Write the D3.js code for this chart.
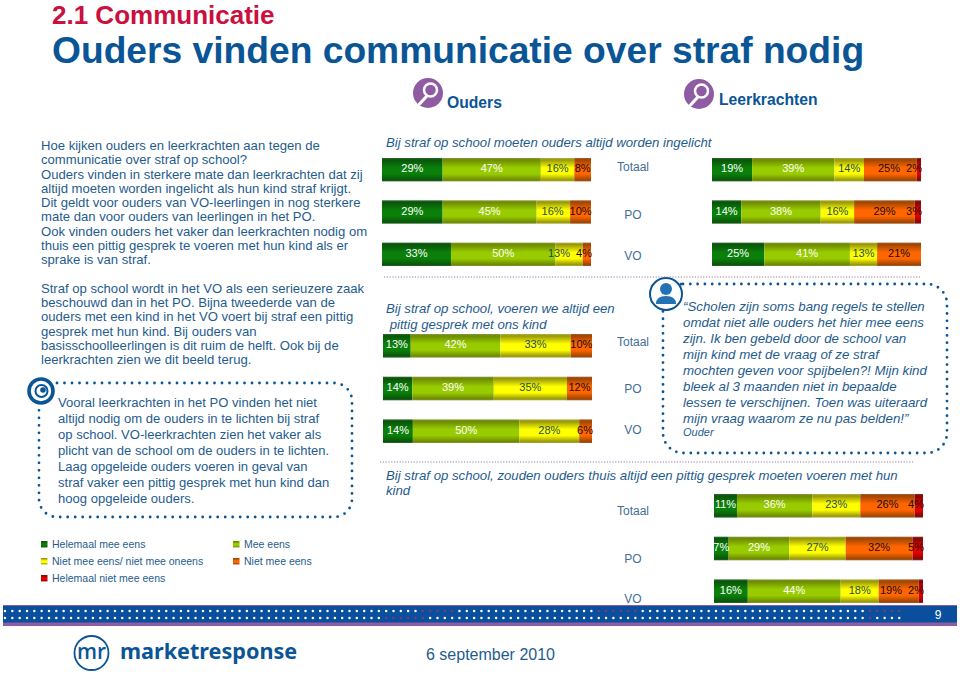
<!DOCTYPE html>
<html><head><meta charset="utf-8">
<script src="https://cdn.jsdelivr.net/npm/d3@7"></script>
<style>html,body{margin:0;padding:0;background:#fff}svg{display:block}text{font-family:"Liberation Sans",Arial,sans-serif}</style>
</head><body><svg id="c" width="960" height="679"></svg>
<script>
const categories = ["Helemaal mee eens","Mee eens","Niet mee eens/ niet mee oneens","Niet mee eens","Helemaal niet mee eens"];
const rowNames = ["Totaal","PO","VO"];
const ouderInformed = [[29,47,16,8,0],[29,45,16,10,0],[33,50,13,4,0]];
const leerkrachtInformed = [[19,39,14,25,2],[14,38,16,29,3],[25,41,13,21,0]];
const ouderTalk = [[13,42,33,10,0],[14,39,35,12,0],[14,50,28,6,0]];
const ouderHomeTalk = [[11,36,23,26,4],[7,29,27,32,5],[16,44,18,19,2]];
const chartTitle1 = ["Bij straf op school moeten ouders altijd worden ingelicht"];
const chartTitle2 = ["Bij straf op school, voeren we altijd een"," pittig gesprek met ons kind"];
const chartTitle3 = ["Bij straf op school, zouden ouders thuis altijd een pittig gesprek moeten voeren met hun","kind"];
const introLines = ["Hoe kijken ouders en leerkrachten aan tegen de","communicatie over straf op school?","Ouders vinden in sterkere mate dan leerkrachten dat zij","altijd moeten worden ingelicht als hun kind straf krijgt.","Dit geldt voor ouders van VO-leerlingen in nog sterkere","mate dan voor ouders van leerlingen in het PO.","Ook vinden ouders het vaker dan leerkrachten nodig om","thuis een pittig gesprek te voeren met hun kind als er","sprake is van straf."];
const secondLines = ["Straf op school wordt in het VO als een serieuzere zaak","beschouwd dan in het PO. Bijna tweederde van de","ouders met een kind in het VO voert bij straf een pittig","gesprek met hun kind. Bij ouders van","basisschoolleerlingen is dit ruim de helft. Ook bij de","leerkrachten zien we dit beeld terug."];
const noteLines = ["Vooral leerkrachten in het PO vinden het niet","altijd nodig om de ouders in te lichten bij straf","op school. VO-leerkrachten zien het vaker als","plicht van de school om de ouders in te lichten.","Laag opgeleide ouders voeren in geval van","straf vaker een pittig gesprek met hun kind dan","hoog opgeleide ouders."];
const quoteLines = ["“Scholen zijn soms bang regels te stellen","omdat niet alle ouders het hier mee eens","zijn. Ik ben gebeld door de school van","mijn kind met de vraag of ze straf","mochten geven voor spijbelen?! Mijn kind","bleek al 3 maanden niet in bepaalde","lessen te verschijnen. Toen was uiteraard","mijn vraag waarom ze nu pas belden!”"];

const BLUE="#1f5c8e", HEAD="#0a5596", ROW="#3f6f96";
const svg=d3.select("#c");
const defs=svg.append("defs");
const shades=[["#2f6a2f","#0a540a","#0a7f0a"],["#8a9a40","#6d8a00","#99cc00"],["#b0b040","#97970a","#ffff00"],["#a06030","#a04500","#ff6600"],["#903030","#800808","#e60000"]];
shades.forEach((s,i)=>{
  const g=defs.append("linearGradient").attr("id","g"+i).attr("x1",0).attr("x2",0).attr("y1",0).attr("y2",1);
  [[0,s[0]],[.08,s[1]],[.42,s[2]],[.68,s[2]],[.94,s[1]],[1,s[0]]].forEach(d=>g.append("stop").attr("offset",d[0]).attr("stop-color",d[1]));
});
const textColor=["#fff","#fff","#1f4f4f","#1a0a00","#1a0a00"];

function lines(arr,x,y0,dy,opt={}){
  svg.append("g").selectAll("text").data(arr).join("text")
    .attr("x",x).attr("y",(d,i)=>y0+i*dy)
    .attr("font-size",opt.size||13).attr("font-style",opt.italic?"italic":"normal").attr("fill",opt.fill||BLUE)
    .style("white-space","pre").text(d=>d);
}

function stacked(data,x0,x1,y0,y1,rowYs){
  const y=d3.scaleBand().domain(rowNames).range([y0,y1]).paddingInner(.447);
  const g=svg.append("g");
  data.forEach((vals,r)=>{
    const total=d3.sum(vals);
    const x=d3.scaleLinear().domain([0,total]).range([x0,x1]);
    const cum=d3.cumsum(vals);
    const segs=vals.map((v,i)=>({v,i,a:cum[i]-v,b:cum[i]})).filter(d=>d.v>0);
    const row=g.append("g");
    row.selectAll("rect").data(segs).join("rect")
      .attr("x",d=>x(d.a)).attr("width",d=>x(d.b)-x(d.a))
      .attr("y",y(rowNames[r])).attr("height",y.bandwidth())
      .attr("fill",d=>`url(#g${d.i})`);
    // label positions: centred, held inside the bar, pushed left if they would collide
    const pos=segs.map(d=>({d,w:d.v>=10?22:16,cx:(x(d.a)+x(d.b))/2}));
    let limit=x1+1;
    for(let i=pos.length-1;i>=0;i--){
      const p=pos[i];
      p.cx=Math.min(p.cx,limit-p.w/2);
      limit=p.cx-p.w/2-6;
    }
    row.selectAll("text").data(pos).join("text")
      .attr("x",p=>p.cx).attr("y",y(rowNames[r])+y.bandwidth()/2+2.5)
      .attr("text-anchor","middle").attr("font-size",11)
      .attr("fill",p=>textColor[p.d.i]).text(p=>p.d.v+"%");
  });
  if(rowYs){
    g.selectAll("text.r").data(rowNames).join("text").attr("class","r")
      .attr("x",633).attr("y",(d,i)=>rowYs[i]).attr("text-anchor","middle")
      .attr("font-size",12).attr("fill",ROW).text(d=>d);
  }
}

// headings
svg.append("text").attr("x",52).attr("y",23.5).attr("font-size",26).attr("font-weight",700).attr("fill","#c9103f").text("2.1 Communicatie");
svg.append("text").attr("x",52).attr("y",63).attr("font-size",37.2).attr("font-weight",700).attr("fill",HEAD).text("Ouders vinden communicatie over straf nodig");

// magnifier icons
function magnifier(cx,cy){
  const g=svg.append("g").attr("transform",`translate(${cx},${cy})`);
  g.append("circle").attr("r",15).attr("fill","#8f5ba3");
  g.append("line").attr("x1",-2).attr("y1",4).attr("x2",-8.5).attr("y2",11).attr("stroke","#fff").attr("stroke-width",3.2).attr("stroke-linecap","round");
  g.append("circle").attr("cx",2.5).attr("cy",-3).attr("r",6.5).attr("fill","#8f5ba3").attr("stroke","#fff").attr("stroke-width",2.5);
}
magnifier(428,93); magnifier(699,94);
svg.append("text").attr("x",447).attr("y",108).attr("font-size",15.7).attr("font-weight",700).attr("fill",HEAD).text("Ouders");
svg.append("text").attr("x",719).attr("y",105).attr("font-size",15.7).attr("font-weight",700).attr("fill",HEAD).text("Leerkrachten");

// left column
lines(introLines,41,150,14.25,{size:13.1});
lines(secondLines,41,293,14.2,{size:13.1});

// note box
function dotted(x,y,w,h,r,dot,gap){
  svg.append("rect").attr("x",x).attr("y",y).attr("width",w).attr("height",h).attr("rx",r).attr("ry",r)
    .attr("fill","none").attr("stroke",HEAD).attr("stroke-width",dot).attr("stroke-linecap","round").attr("stroke-dasharray",`0 ${gap}`);
}
dotted(39,383,313,134,18,2.8,7.5);
svg.append("circle").attr("cx",41).attr("cy",391).attr("r",15).attr("fill","#fff");
svg.append("circle").attr("cx",41).attr("cy",391).attr("r",12).attr("fill","#fff").attr("stroke",HEAD).attr("stroke-width",3.6);
svg.append("circle").attr("cx",41.5).attr("cy",391).attr("r",6).attr("fill","#fff").attr("stroke",HEAD).attr("stroke-width",2);
svg.append("circle").attr("cx",43).attr("cy",390).attr("r",2.8).attr("fill",HEAD);
lines(noteLines,58,407,16,{size:13.05});

// quote box
dotted(663,284,284,169,20,2.8,7.3);
svg.append("circle").attr("cx",666).attr("cy",294).attr("r",16).attr("fill","#fff").attr("stroke",HEAD).attr("stroke-width",2);
svg.append("circle").attr("cx",666).attr("cy",289).attr("r",6).attr("fill","#2272b5");
svg.append("path").attr("d","M656,304 Q656,296 666,296 Q676,296 676,304 Z").attr("fill","#2272b5");
lines(quoteLines,683,311,16,{italic:true,size:13.3});
svg.append("text").attr("x",683).attr("y",436).attr("font-size",11).attr("font-style","italic").attr("fill",BLUE).text("Ouder");

// separators
[[384,920,277],[380,913,462]].forEach(s=>svg.append("line").attr("x1",s[0]).attr("x2",s[1]).attr("y1",s[2]).attr("y2",s[2])
  .attr("stroke","#9a7aa8").attr("stroke-width",1).attr("stroke-dasharray","1.2 1.6"));

// chart titles
lines(chartTitle1,386,147,15,{italic:true,size:13.2});
lines(chartTitle2,386,313,16,{italic:true,size:13.2});
lines(chartTitle3,386,480,15,{italic:true,size:13.2});

// charts
stacked(ouderInformed,382,591,158,266,[171,219,260]);
stacked(leerkrachtInformed,712,921,158,266);
stacked(ouderTalk,383,592,334,443,[346,393,434]);
stacked(ouderHomeTalk,714,923,494,603,[515,563,603]);

// legend
const legendPos=[[41,541],[233,541],[41,558],[233,558],[41,575]];
const lg=svg.append("g").selectAll("g").data(categories).join("g")
  .attr("transform",(d,i)=>`translate(${legendPos[i][0]},${legendPos[i][1]})`);
lg.append("rect").attr("width",6.5).attr("height",6.5).attr("fill",(d,i)=>`url(#g${i})`);
lg.append("text").attr("x",11).attr("y",6.5).attr("font-size",10.5).attr("fill",BLUE).text(d=>d);

// footer band
svg.append("rect").attr("x",3).attr("y",605).attr("width",954).attr("height",21).attr("fill","#8f5ba3");
svg.append("rect").attr("x",3).attr("y",606).attr("width",954).attr("height",16.5).attr("fill","#0a4f9e");
const xs=d3.range(5,904,7.33);
[[611,[[417,456],[597,639],[865,904]]],[618,[[380,428],[385,396],[865,876]]]].forEach(([yy,red])=>{
  svg.append("g").selectAll("circle").data(xs).join("circle")
    .attr("cx",d=>d).attr("cy",yy).attr("r",1.25)
    .attr("fill",d=>red.some(r=>d>=r[0]&&d<=r[1])?"#7a3a7a":"#fff");
});
svg.append("text").attr("x",938).attr("y",619).attr("text-anchor","middle").attr("font-size",12).attr("fill","#fff").text("9");

// logo and date
svg.append("circle").attr("cx",91.5).attr("cy",653).attr("r",17).attr("fill","none").attr("stroke",HEAD).attr("stroke-width",1.8);
svg.append("text").attr("x",91.5).attr("y",659).attr("text-anchor","middle").attr("font-size",21).attr("font-weight",600).attr("fill",HEAD).style("font-family","'Open Sans'").text("mr");
svg.append("text").attr("x",120).attr("y",659).attr("font-size",21.6).attr("font-weight",700).attr("fill",HEAD).style("font-family","'Noto Sans'").text("marketresponse");
svg.append("text").attr("x",426).attr("y",660).attr("font-size",16).attr("fill",BLUE).text("6 september 2010");
</script></body></html>
